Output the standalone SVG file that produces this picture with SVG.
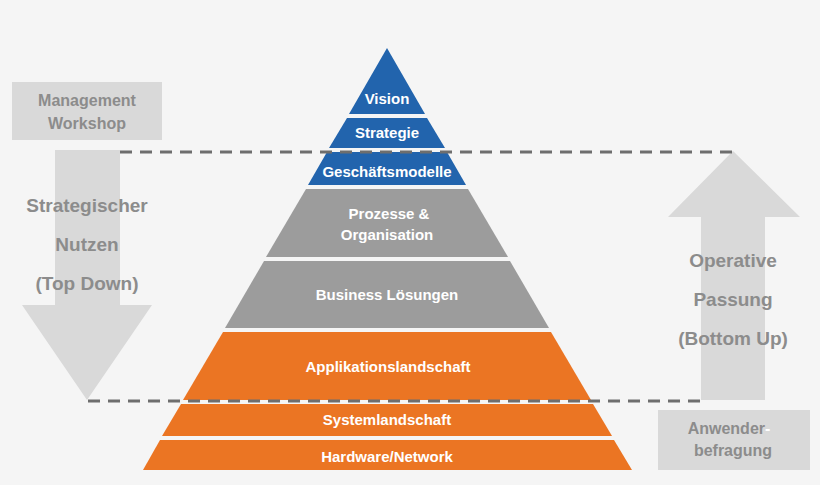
<svg xmlns="http://www.w3.org/2000/svg" width="820" height="485" viewBox="0 0 820 485">
<style>
.b{fill:#2264ad}.g{fill:#9c9c9c}.o{fill:#eb7523}
.t{font-family:"Liberation Sans",Arial,sans-serif;font-weight:bold;fill:#fff;font-size:15px;text-anchor:middle}
.s{font-family:"Liberation Sans",Arial,sans-serif;font-weight:bold;fill:#8c8c8c;text-anchor:middle}
.d{stroke:#6e6e6e;stroke-width:3;stroke-dasharray:12,8;fill:none}
.a{fill:#d9d9d9}
</style>
<rect width="820" height="485" fill="#f5f5f5"/>
<g id="left">
<rect class="a" x="12" y="82" width="150" height="58"/>
<text class="s" x="87" y="106" font-size="16">Management</text>
<text class="s" x="87" y="129" font-size="16">Workshop</text>
<polygon class="a" points="55,150 120,150 120,305 152,305 87,400 22,305 55,305"/>
<text class="s" x="87" y="212" font-size="19">Strategischer</text>
<text class="s" x="87" y="251" font-size="19">Nutzen</text>
<text class="s" x="87" y="290" font-size="19">(Top Down)</text>
</g>
<g id="right">
<polygon class="a" points="733,151 800,217 765,217 765,400 701,400 701,217 668,217"/>
<text class="s" x="733" y="267" font-size="19">Operative</text>
<text class="s" x="733" y="306" font-size="19">Passung</text>
<text class="s" x="733" y="345" font-size="19">(Bottom Up)</text>
<rect class="a" x="658" y="410" width="152" height="60"/>
<text class="s" x="729" y="434" font-size="16">Anwender<tspan fill="#fff">-</tspan></text>
<text class="s" x="733" y="456" font-size="16">befragung</text>
</g>
<g id="pyramid">
<g id="vision"><polygon class="b" points="387,48 425,114 349,114"/><text class="t" x="387" y="104" font-size="14">Vision</text></g>
<g id="strategie"><polygon class="b" points="347,118 427,118 445,148 329,148"/><text class="t" x="387" y="138" font-size="14">Strategie</text></g>
<g id="geschaeft"><polygon class="b" points="327,152 447,152 466,185 308,185"/><text class="t" x="387" y="177" font-size="14">Geschäftsmodelle</text></g>
<g id="prozesse"><polygon class="g" points="306,189 468,189 508,257 266,257"/><text class="t" x="389" y="219">Prozesse &amp;</text><text class="t" x="387" y="240">Organisation</text></g>
<g id="business"><polygon class="g" points="264,261 510,261 549,328 225,328"/><text class="t" x="387" y="300">Business Lösungen</text></g>
<g id="applik"><polygon class="o" points="223,332 551,332 591,400 183,400"/><text class="t" x="388" y="372">Applikationslandschaft</text></g>
<g id="system"><polygon class="o" points="181,404 593,404 612,436 162,436"/><text class="t" x="387" y="425">Systemlandschaft</text></g>
<g id="hardware"><polygon class="o" points="160,440 614,440 632,470 143,470"/><text class="t" x="387" y="462">Hardware/Network</text></g>
</g>
<g id="connectors">
<line class="d" x1="120" y1="152" x2="735" y2="152"/>
<line class="d" x1="88" y1="401" x2="702" y2="401"/>
</g>
</svg>
